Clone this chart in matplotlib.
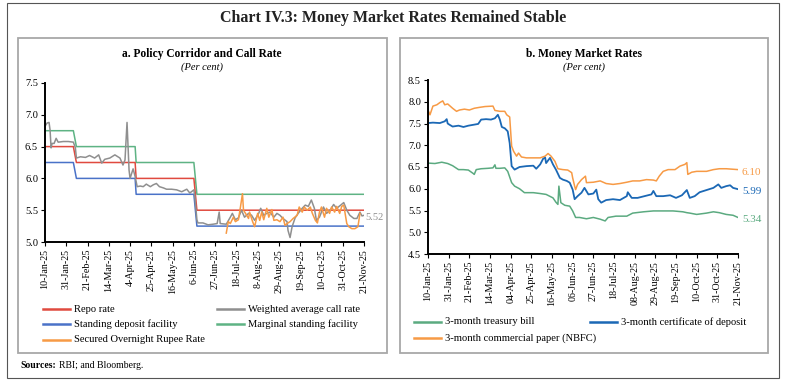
import numpy as np
import pandas as pd
import matplotlib
matplotlib.use('Agg')
import matplotlib.pyplot as plt
from matplotlib.lines import Line2D
from matplotlib.patches import Rectangle

plt.rcParams['font.family'] = ['Liberation Serif', 'DejaVu Serif']

W, H = 786, 384

# x values are days counted from 10-Jan-25
tick_days = list(range(0, 316, 21))
ticks_a = ['10-Jan-25', '31-Jan-25', '21-Feb-25', '14-Mar-25', '4-Apr-25', '25-Apr-25',
           '16-May-25', '6-Jun-25', '27-Jun-25', '18-Jul-25', '8-Aug-25', '29-Aug-25',
           '19-Sep-25', '10-Oct-25', '31-Oct-25', '21-Nov-25']
ticks_b = ['10-Jan-25', '31-Jan-25', '21-Feb-25', '14-Mar-25', '04-Apr-25', '25-Apr-25',
           '16-May-25', '06-Jun-25', '27-Jun-25', '18-Jul-25', '08-Aug-25', '29-Aug-25',
           '19-Sep-25', '10-Oct-25', '31-Oct-25', '21-Nov-25']

# policy corridor: new level shown from these dates
policy_dates = ['2025-01-10', '2025-02-10', '2025-04-10', '2025-06-09']
repo_levels = [6.50, 6.25, 6.00, 5.50]
corridor = 0.25

# weighted average call rate
wacr_days = [0, 2, 4, 5, 6, 7, 9, 11, 13, 18, 23, 28, 30, 31, 35, 40, 44, 49, 53, 56, 59, 64,
             69, 74, 77, 79, 81, 83, 84, 87, 89, 91, 94, 97, 100, 104, 107, 110, 113, 117, 120,
             125, 130, 135, 140, 143, 147, 148, 150, 151, 156, 161, 166, 170, 172, 173, 179,
             183, 185, 188, 191, 194, 197, 201, 204, 207, 211, 213, 216, 219, 222, 226, 229,
             232, 235, 239, 240, 242, 244, 247, 250, 254, 257, 260, 263, 266, 268, 271, 275,
             278, 282, 285, 288, 292, 295, 298, 301, 305, 308, 311, 313, 315]
wacr = [6.82, 6.87, 6.88, 6.76, 6.48, 6.55, 6.55, 6.63, 6.57, 6.58, 6.58, 6.57, 6.48, 6.32,
        6.34, 6.33, 6.36, 6.32, 6.37, 6.24, 6.30, 6.32, 6.37, 6.32, 6.21, 6.29, 6.88, 6.13,
        6.00, 6.15, 6.03, 5.87, 5.88, 5.87, 5.91, 5.87, 5.90, 5.92, 5.87, 5.85, 5.83, 5.83,
        5.82, 5.79, 5.83, 5.77, 5.82, 5.71, 5.35, 5.30, 5.30, 5.27, 5.28, 5.29, 5.47, 5.29,
        5.28, 5.39, 5.45, 5.35, 5.38, 5.50, 5.39, 5.45, 5.42, 5.34, 5.45, 5.53, 5.42, 5.45,
        5.47, 5.39, 5.45, 5.42, 5.37, 5.32, 5.18, 5.07, 5.24, 5.38, 5.45, 5.53, 5.58, 5.56,
        5.66, 5.53, 5.34, 5.39, 5.55, 5.45, 5.51, 5.59, 5.53, 5.58, 5.62, 5.50, 5.42, 5.37,
        5.37, 5.47, 5.41, 5.42]

# secured overnight rupee rate
sorr_days = [179, 181, 183, 186, 188, 191, 193, 195, 196, 198, 201, 202, 205, 207, 210, 212,
             214, 216, 219, 221, 224, 226, 229, 232, 235, 237, 239, 242, 245, 249, 251, 254,
             256, 259, 262, 264, 267, 269, 271, 273, 276, 278, 281, 283, 286, 288, 291, 293,
             295, 298, 300, 303, 306, 309, 311]
sorr = [5.14, 5.32, 5.29, 5.39, 5.32, 5.35, 5.55, 5.76, 5.50, 5.45, 5.37, 5.47, 5.32, 5.24,
        5.45, 5.34, 5.47, 5.35, 5.53, 5.39, 5.51, 5.34, 5.35, 5.32, 5.39, 5.26, 5.29, 5.32,
        5.37, 5.42, 5.55, 5.47, 5.55, 5.50, 5.55, 5.45, 5.34, 5.30, 5.47, 5.55, 5.39, 5.53,
        5.45, 5.55, 5.47, 5.56, 5.45, 5.56, 5.58, 5.29, 5.24, 5.21, 5.21, 5.24, 5.45]

# 3-month treasury bill
tbill_days = [0, 7, 14, 20, 25, 31, 36, 41, 46, 47, 49, 54, 61, 66, 68, 69, 73, 78, 81, 85, 88,
              93, 98, 107, 114, 120, 127, 130, 132, 133, 135, 139, 144, 147, 150, 154, 161, 168,
              175, 180, 183, 191, 202, 208, 219, 229, 239, 249, 259, 263, 266, 273, 283, 290,
              296, 303, 310, 315]
tbill = [6.59, 6.58, 6.61, 6.58, 6.53, 6.44, 6.44, 6.43, 6.35, 6.33, 6.44, 6.46, 6.47, 6.48,
         6.55, 6.47, 6.47, 6.48, 6.40, 6.14, 6.06, 6.00, 5.91, 5.91, 5.89, 5.87, 5.79, 5.69,
         5.64, 6.06, 5.68, 5.62, 5.60, 5.49, 5.34, 5.34, 5.31, 5.34, 5.30, 5.26, 5.34, 5.37,
         5.37, 5.44, 5.47, 5.49, 5.49, 5.49, 5.47, 5.45, 5.44, 5.41, 5.44, 5.47, 5.45, 5.41,
         5.39, 5.34]

# 3-month certificate of deposit
cd_days = [0, 5, 12, 17, 19, 20, 22, 25, 31, 36, 41, 46, 51, 54, 59, 64, 68, 71, 73, 75, 78,
           81, 83, 85, 88, 93, 100, 107, 110, 114, 117, 119, 120, 124, 127, 130, 134, 137, 141,
           144, 147, 149, 152, 156, 159, 163, 168, 171, 173, 176, 181, 188, 195, 202, 203, 207,
           213, 220, 227, 229, 232, 239, 246, 252, 258, 263, 266, 271, 276, 283, 290, 295, 298,
           303, 307, 310, 315]
cd = [7.51, 7.52, 7.51, 7.55, 7.60, 7.50, 7.47, 7.43, 7.45, 7.42, 7.45, 7.47, 7.49, 7.59,
      7.60, 7.59, 7.62, 7.70, 7.59, 7.42, 7.39, 7.32, 7.05, 6.52, 6.44, 6.50, 6.52, 6.53, 6.46,
      6.56, 6.69, 6.72, 6.59, 6.71, 6.56, 6.44, 6.25, 6.21, 6.18, 6.14, 5.98, 5.76, 5.83, 5.91,
      6.02, 5.87, 5.89, 5.98, 5.76, 5.68, 5.74, 5.76, 5.74, 5.83, 5.92, 5.79, 5.79, 5.83, 5.87,
      5.95, 5.83, 5.83, 5.85, 5.79, 5.85, 5.97, 5.79, 5.83, 5.92, 5.97, 6.02, 6.10, 6.02, 6.06,
      6.08, 6.02, 5.99]

# 3-month commercial paper (NBFC)
cp_days = [0, 2, 5, 9, 12, 15, 17, 20, 25, 29, 32, 37, 42, 47, 52, 58, 66, 68, 73, 78, 80, 83,
           85, 87, 90, 92, 95, 100, 107, 114, 119, 122, 125, 129, 132, 137, 142, 146, 147, 149,
           150, 152, 156, 160, 161, 168, 175, 181, 188, 195, 202, 208, 215, 222, 229, 232, 235,
           239, 244, 251, 256, 261, 263, 264, 268, 273, 283, 290, 296, 303, 315]
cp = [7.81, 7.70, 7.90, 7.93, 7.98, 8.02, 7.93, 7.95, 7.85, 7.78, 7.81, 7.83, 7.81, 7.85, 7.87,
      7.89, 7.90, 7.80, 7.78, 7.78, 7.70, 7.65, 6.98, 6.86, 6.75, 6.82, 6.73, 6.71, 6.71, 6.71,
      6.75, 6.81, 6.75, 6.63, 6.46, 6.44, 6.43, 6.37, 6.25, 6.06, 5.98, 6.10, 6.21, 6.29, 6.14,
      6.15, 6.18, 6.12, 6.10, 6.12, 6.15, 6.18, 6.18, 6.21, 6.20, 6.18, 6.29, 6.40, 6.44, 6.44,
      6.52, 6.56, 6.60, 6.33, 6.38, 6.40, 6.40, 6.44, 6.46, 6.46, 6.44]

c_red = '#E04A3F'
c_gray = '#8F8F8F'
c_sdf = '#4A72C8'
c_msf = '#5EB384'
c_orange = '#F79A45'
c_green_b = '#5BAA80'
c_blue_b = '#1B68B5'
lw = 1.1


def fx(px):
    return px / W


def fy(py):
    return 1 - py / H


# daily policy corridor on business days
bd = pd.bdate_range('2025-01-10', '2025-11-21')
bd_days = np.array((bd - bd[0]).days)
change_days = np.array((pd.to_datetime(policy_dates) - bd[0]).days)
repo = np.array(repo_levels)[np.searchsorted(change_days, bd_days, side='right') - 1]
sdf = repo - corridor
msf = repo + corridor

fig = plt.figure(figsize=(W / 100, H / 100), dpi=100)

# frames
fig.add_artist(Rectangle((fx(7), fy(378)), fx(779) - fx(7), fy(3) - fy(378),
                         transform=fig.transFigure, fill=False, ec='#555555', lw=0.8))
for x0, x1 in [(18, 387), (400, 768)]:
    fig.add_artist(Rectangle((fx(x0), fy(353)), fx(x1) - fx(x0), fy(38) - fy(353),
                             transform=fig.transFigure, fill=False, ec='#A8A8A8', lw=1.3))

fig.text(fx(393), fy(18), 'Chart IV.3: Money Market Rates Remained Stable',
         ha='center', va='center', fontsize=11.5, weight='bold', color='#222222')


def style_axes(ax, labels):
    for s in ['top', 'right']:
        ax.spines[s].set_visible(False)
    for s in ['left', 'bottom']:
        ax.spines[s].set_linewidth(1.4)
        ax.spines[s].set_color('black')
    ax.set_xlim(0, 315)
    ax.set_xticks(tick_days)
    ax.set_xticklabels(labels, rotation=90, fontsize=7.2)
    ax.tick_params(direction='out', length=3, width=0.8, labelsize=7.5, pad=2)
    ax.tick_params(axis='x', labelsize=7.2)


# panel a
ax1 = fig.add_axes([fx(45), fy(242), fx(364) - fx(45), fy(83) - fy(242)])
ax1.plot(bd_days, msf, color=c_msf, lw=lw)
ax1.plot(bd_days, repo, color=c_red, lw=lw)
ax1.plot(bd_days, sdf, color=c_sdf, lw=lw)
ax1.plot(wacr_days, wacr, color=c_gray, lw=lw)
ax1.plot(sorr_days, sorr, color=c_orange, lw=lw)
ax1.set_ylim(5.0, 7.5)
ax1.set_yticks(np.arange(5.0, 7.51, 0.5))
ax1.set_yticklabels(['%.1f' % v for v in np.arange(5.0, 7.51, 0.5)])
style_axes(ax1, ticks_a)
fig.text(fx(202), fy(54), 'a. Policy Corridor and Call Rate', ha='center', va='center',
         fontsize=8.3, weight='bold')
fig.text(fx(202), fy(67), '(Per cent)', ha='center', va='center', fontsize=7.5, style='italic')
fig.text(fx(365), fy(218), '5.52', ha='left', va='center', fontsize=7.5, color=c_gray)

# panel b
ax2 = fig.add_axes([fx(428), fy(254), fx(738) - fx(428), fy(80) - fy(254)])
ax2.plot(tbill_days, tbill, color=c_green_b, lw=lw)
ax2.plot(cd_days, cd, color=c_blue_b, lw=lw + 0.2)
ax2.plot(cp_days, cp, color=c_orange, lw=lw)
ax2.set_ylim(4.5, 8.5)
ax2.set_yticks(np.arange(4.5, 8.51, 0.5))
ax2.set_yticklabels(['%.1f' % v for v in np.arange(4.5, 8.51, 0.5)])
style_axes(ax2, ticks_b)
fig.text(fx(584), fy(54), 'b. Money Market Rates', ha='center', va='center',
         fontsize=8.3, weight='bold')
fig.text(fx(584), fy(67), '(Per cent)', ha='center', va='center', fontsize=7.5, style='italic')
fig.text(fx(742), fy(172), '6.10', ha='left', va='center', fontsize=8, color=c_orange)
fig.text(fx(742), fy(192), '5.99', ha='left', va='center', fontsize=8, color=c_blue_b)
fig.text(fx(742), fy(220), '5.34', ha='left', va='center', fontsize=8, color=c_green_b)

# legends drawn by hand to keep the row layout
legend_a = [(43, 309, c_red, 'Repo rate'), (217, 309, c_gray, 'Weighted average call rate'),
            (43, 324, c_sdf, 'Standing deposit facility'),
            (217, 324, c_msf, 'Marginal standing facility'),
            (43, 340, c_orange, 'Secured Overnight Rupee Rate')]
legend_b = [(414, 322, c_green_b, '3-month treasury bill'),
            (590, 322, c_blue_b, '3-month certificate of deposit'),
            (414, 338, c_orange, '3-month commercial paper (NBFC)')]
for x, y, c, lab in legend_a + legend_b:
    fig.add_artist(Line2D([fx(x), fx(x + 27)], [fy(y), fy(y)], color=c, lw=1.8,
                          transform=fig.transFigure))
    fig.text(fx(x + 31), fy(y), lab, ha='left', va='center', fontsize=7.6)

fig.text(fx(20), fy(366), 'Sources:', ha='left', va='center', fontsize=7, weight='bold')
fig.text(fx(59), fy(366), 'RBI; and Bloomberg.', ha='left', va='center', fontsize=7)

fig.savefig('out.png', dpi=100)
